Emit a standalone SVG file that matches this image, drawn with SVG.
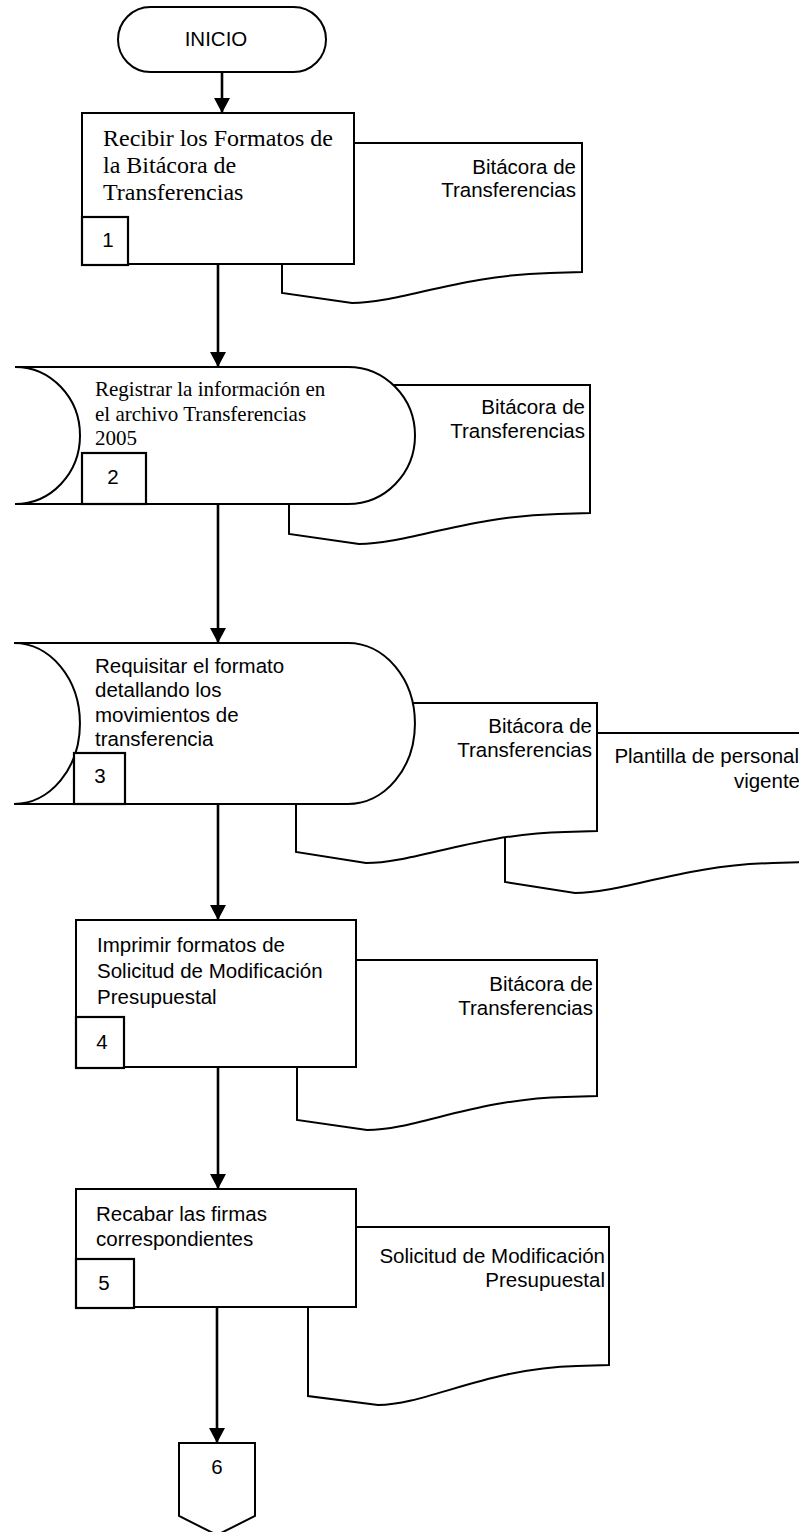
<svg xmlns="http://www.w3.org/2000/svg" width="799" height="1532" viewBox="0 0 799 1532">
  <defs>
    <style>
      .shape { fill: #ffffff; stroke: #000000; stroke-width: 2; stroke-linejoin: miter; }
      .num { fill: #ffffff; stroke: #000000; stroke-width: 2.2; }
      .link { fill: none; stroke: #000000; stroke-width: 2.6; }
      .sans { font-family: "Liberation Sans", Arial, sans-serif; font-size: 20.5px; fill: #000000; }
      .serif { font-family: "Liberation Serif", "Times New Roman", serif; fill: #000000; }
      .right { text-anchor: end; }
      .mid { text-anchor: middle; }
    </style>
    <marker id="arrow" markerUnits="userSpaceOnUse" markerWidth="18" markerHeight="16" refX="15" refY="8" orient="auto">
      <path d="M0,0 L15,8 L0,16 Z" fill="#000000"/>
    </marker>
  </defs>
  <rect width="799" height="1532" fill="#ffffff"/>

  <!-- connectors -->
  <g id="connectors">
    <line class="link" x1="222" y1="72" x2="222" y2="113" marker-end="url(#arrow)"/>
    <line class="link" x1="218" y1="264" x2="218" y2="367" marker-end="url(#arrow)"/>
    <line class="link" x1="218" y1="504" x2="218" y2="643" marker-end="url(#arrow)"/>
    <line class="link" x1="218" y1="804" x2="218" y2="920" marker-end="url(#arrow)"/>
    <line class="link" x1="218" y1="1067" x2="218" y2="1189" marker-end="url(#arrow)"/>
    <line class="link" x1="217" y1="1307" x2="217" y2="1443" marker-end="url(#arrow)"/>
  </g>

  <!-- start terminator -->
  <g id="inicio">
    <rect class="shape" x="118" y="7" width="208" height="65" rx="32.5" ry="32.5"/>
    <text class="sans mid" x="216" y="46">INICIO</text>
  </g>

  <!-- step 1 -->
  <g id="doc1">
    <path class="shape" d="M282,143 H582 V272 L550,273 C460,275 400,303 352,303 L282,293 Z"/>
    <text class="sans right" x="576" y="174">Bitácora de</text>
    <text class="sans right" x="576" y="197">Transferencias</text>
  </g>
  <g id="step1">
    <rect class="shape" x="82" y="113" width="272" height="151"/>
    <text class="serif" font-size="24" x="103" y="146">Recibir los Formatos de</text>
    <text class="serif" font-size="24" x="103" y="173">la Bitácora de</text>
    <text class="serif" font-size="24" x="103" y="200">Transferencias</text>
    <rect class="num" x="82" y="217" width="46" height="48"/>
    <text class="sans mid" x="108" y="247">1</text>
  </g>

  <!-- step 2 -->
  <g id="doc2">
    <path class="shape" d="M289,385 H590 V513 L558,514 C468,516 407,544 359,544 L289,534 Z"/>
    <text class="sans right" x="585" y="414">Bitácora de</text>
    <text class="sans right" x="585" y="438">Transferencias</text>
  </g>
  <g id="step2">
    <path class="shape" d="M15,367 H348 A67,68.5 0 0 1 348,504 H15 A65,68.5 0 0 0 15,367 Z"/>
    <text class="serif" font-size="21" x="95" y="396">Registrar la información en</text>
    <text class="serif" font-size="21" x="95" y="421">el archivo Transferencias</text>
    <text class="serif" font-size="21" x="95" y="445">2005</text>
    <rect class="num" x="82" y="453" width="64" height="51"/>
    <text class="sans mid" x="113" y="484">2</text>
  </g>

  <!-- step 3 -->
  <g id="doc3b">
    <path class="shape" d="M505,733 H805 V862 L773,863 C683,865 623,893 575,893 L505,882 Z"/>
    <text class="sans right" x="799" y="763">Plantilla de personal</text>
    <text class="sans right" x="800" y="788">vigente</text>
  </g>
  <g id="doc3a">
    <path class="shape" d="M296,703 H597 V831 L565,832 C475,834 414,863 366,863 L296,852 Z"/>
    <text class="sans right" x="592" y="733">Bitácora de</text>
    <text class="sans right" x="592" y="757">Transferencias</text>
  </g>
  <g id="step3">
    <path class="shape" d="M14,643 H348 A67,80.5 0 0 1 348,804 H14 A66,80.5 0 0 0 14,643 Z"/>
    <text class="sans" x="95" y="673">Requisitar el formato</text>
    <text class="sans" x="95" y="697">detallando los</text>
    <text class="sans" x="95" y="722">movimientos de</text>
    <text class="sans" x="95" y="746">transferencia</text>
    <rect class="num" x="74" y="753" width="51" height="51"/>
    <text class="sans mid" x="100" y="783">3</text>
  </g>

  <!-- step 4 -->
  <g id="doc4">
    <path class="shape" d="M297,960 H597 V1096 L565,1097 C475,1099 415,1130 367,1130 L297,1120 Z"/>
    <text class="sans right" x="593" y="991">Bitácora de</text>
    <text class="sans right" x="593" y="1015">Transferencias</text>
  </g>
  <g id="step4">
    <rect class="shape" x="76" y="920" width="280" height="147"/>
    <text class="sans" x="97" y="952">Imprimir formatos de</text>
    <text class="sans" x="97" y="978">Solicitud de Modificación</text>
    <text class="sans" x="97" y="1004">Presupuestal</text>
    <rect class="num" x="76" y="1017" width="48" height="51"/>
    <text class="sans mid" x="102" y="1049">4</text>
  </g>

  <!-- step 5 -->
  <g id="doc5">
    <path class="shape" d="M308,1227 H609 V1365 L577,1366 C487,1368 426,1405 378,1405 L308,1396 Z"/>
    <text class="sans right" x="605" y="1263">Solicitud de Modificación</text>
    <text class="sans right" x="605" y="1287">Presupuestal</text>
  </g>
  <g id="step5">
    <rect class="shape" x="76" y="1189" width="280" height="118"/>
    <text class="sans" x="96" y="1221">Recabar las firmas</text>
    <text class="sans" x="96" y="1246">correspondientes</text>
    <rect class="num" x="76" y="1259" width="58" height="49"/>
    <text class="sans mid" x="104" y="1290">5</text>
  </g>

  <!-- off-page connector -->
  <g id="offpage6">
    <path class="shape" d="M179,1443 H255 V1516 L217,1535 L179,1516 Z"/>
    <text class="sans mid" x="217" y="1474">6</text>
  </g>
</svg>
